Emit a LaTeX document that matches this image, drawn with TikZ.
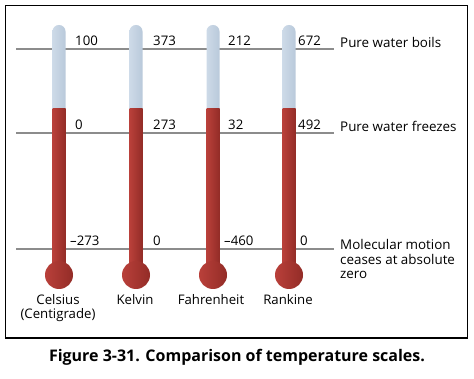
\documentclass[tikz,border=0pt]{standalone}
\usepackage{fontspec}
\setmainfont{Open Sans}
\definecolor{tubeL}{HTML}{CDDAE8}
\definecolor{tubeR}{HTML}{B9C9DA}
\definecolor{redL}{HTML}{B9403A}
\definecolor{redR}{HTML}{932C27}
\definecolor{lineg}{HTML}{8C8C8C}
\tikzset{
  level/.style={draw=lineg, line width=1.5pt},
  num/.style={anchor=base west, inner sep=0pt, font=\fontsize{13.2}{14}\selectfont},
  lab/.style={anchor=base west, inner sep=0pt, font=\fontsize{13.4}{14.5}\selectfont, align=left},
  scalename/.style={anchor=base, inner sep=0pt, font=\fontsize{13.2}{14.5}\selectfont, align=center},
}
\begin{document}
\begin{tikzpicture}[x=1pt,y=-1pt]
\useasboundingbox (0,0) rectangle (474,379);
\fill[white] (0,0) rectangle (474,379);
\draw[line width=1.3pt] (5.5,5.5) rectangle (467.5,338);
% level lines
\coordinate (b1) at (16,49); \coordinate (b2) at (334,49);
\coordinate (f1) at (16,133); \coordinate (f2) at (334,133);
\coordinate (z1) at (16,249); \coordinate (z2) at (334,249);
\draw[level] (b1) -- (b2);
\draw[level] (f1) -- (f2);
\draw[level] (z1) -- (z2);
% thermometers
\foreach \x in {59,136,213,289}{
  \shade[left color=tubeL, right color=tubeR, rounded corners=6.4pt] (\x-6.5,25) rectangle (\x+6.5,118);
  \shade[left color=redL, right color=redR] (\x-6.5,109) rectangle (\x+6.5,266);
  \shade[left color=redL, right color=redR] (\x,275) circle (14);
}
% numbers
\node[num] (c100) at (75,46) {100};
\node[num] (k373) at (153,46) {373};
\node[num] (f212) at (228,46) {212};
\node[num] (r672) at (298,46) {672};
\node[num] (c0) at (75,130) {0};
\node[num] (k273) at (153,130) {273};
\node[num] (f32) at (228,130) {32};
\node[num] (r492) at (298,130) {492};
\node[num] (cm273) at (70,246) {\textendash273};
\node[num] (k0) at (153,246) {0};
\node[num] (fm460) at (224,246) {\textendash460};
\node[num] (r0) at (300,246) {0};
% labels
\node[lab] (boil) at (340,48) {Pure water boils};
\node[lab] (freeze) at (340,132) {Pure water freezes};
\node[lab] (zero) at (340,279) {Molecular motion\\ceases at absolute\\zero};
% scale names
\node[scalename] (cel) at (58,319) {Celsius\\(Centigrade)};
\node[scalename] (kel) at (135,305) {Kelvin};
\node[scalename] (fah) at (211,305) {Fahrenheit};
\node[scalename] (ran) at (288,305) {Rankine};
% caption
\node[anchor=base, inner sep=0pt, font=\bfseries\fontsize{16}{18}\selectfont] (cap) at (237,362) {Figure 3-31. Comparison of temperature scales.};
\end{tikzpicture}
\end{document}
